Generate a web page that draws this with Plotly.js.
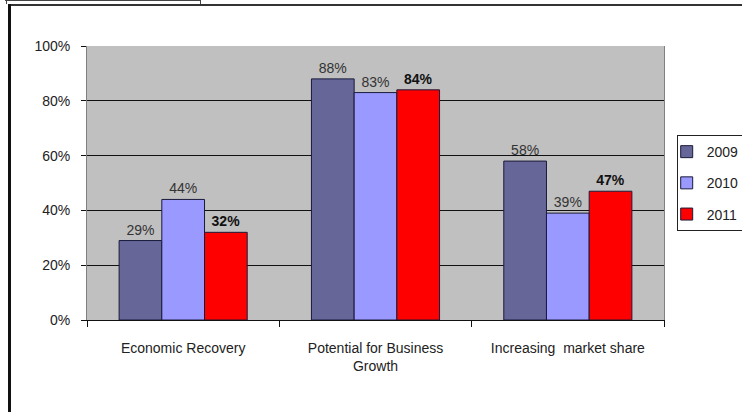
<!DOCTYPE html>
<html>
<head>
<meta charset="utf-8">
<script src="https://cdn.plot.ly/plotly-3.0.1.min.js"></script>
<style>
html,body{margin:0;padding:0;background:#fff;}
#wrap{position:relative;width:742px;height:412px;overflow:hidden;}
#chart{position:absolute;left:0;top:0;width:742px;height:412px;}
.fr{position:absolute;background:#111;}
</style>
</head>
<body>
<div id="wrap">
<div id="chart"></div>
<div class="fr" style="left:8px;top:4px;width:734px;height:2px;background:#333;"></div>
<div class="fr" style="left:8px;top:4px;width:3px;height:408px;"></div>
<div class="fr" style="left:5px;top:0px;width:195px;height:1px;background:#444;"></div>
<div class="fr" style="left:6px;top:0px;width:1px;height:4px;background:#444;"></div>
<div class="fr" style="left:200px;top:0px;width:1px;height:4px;background:#444;"></div>
</div>
<script>
var categories = ["Economic Recovery", "Potential for Business<br>Growth", "Increasing  market share"];
var seriesNames = ["2009", "2010", "2011"];
var values2009 = [0.29, 0.88, 0.58];
var values2010 = [0.44, 0.83, 0.39];
var values2011 = [0.32, 0.84, 0.47];
var yTickVals = [0, 0.2, 0.4, 0.6, 0.8, 1.0];
var yTickText = ["0%", "20%", "40%", "60%", "80%", "100%"];

var FONT = "Liberation Sans, Arial, sans-serif";
function mk(name, vals, color, bold) {
  return {
    type: "bar", name: name, x: categories, y: vals, legendgroup: name,
    marker: {color: color, line: {color: "#1a1a3a", width: 1}},
    text: vals.map(function(v){ return bold ? "<b>" + Math.round(v*100) + "%</b>" : Math.round(v*100) + "%"; }),
    textposition: "outside", cliponaxis: false,
    textfont: {family: FONT, size: 14, color: bold ? "#111" : "#333"},
    hoverinfo: "skip"
  };
}
var data = [
  mk(seriesNames[0], values2009, "#666699", false),
  mk(seriesNames[1], values2010, "#9999ff", false),
  mk(seriesNames[2], values2011, "#ff0000", true)
];
var layout = {
  width: 742, height: 412,
  margin: {l: 87, r: 78, t: 46, b: 92, autoexpand: false},
  paper_bgcolor: "rgba(0,0,0,0)",
  plot_bgcolor: "#c0c0c0",
  barmode: "group", bargap: 0.334, bargroupgap: 0,
  font: {family: FONT, size: 14, color: "#222"},
  showlegend: true,
  legend: {x: 1.022, y: 0.675, xanchor: "left", yanchor: "top",
    bgcolor: "#fff", bordercolor: "#222", borderwidth: 1,
    font: {family: FONT, size: 14, color: "#222"},
    traceorder: "grouped", tracegroupgap: 10, itemwidth: 30, indentation: -11},
  xaxis: {
    showgrid: false, tickson: "boundaries", ticks: "outside", ticklen: 6, tickcolor: "#111",
    showline: true, linecolor: "#111", linewidth: 1, mirror: false,
    ticklabelstandoff: 15, tickfont: {family: FONT, size: 14, color: "#222"}
  },
  yaxis: {
    range: [0, 1], tickvals: yTickVals, ticktext: yTickText,
    showgrid: true, gridcolor: "#111", gridwidth: 1, zeroline: false,
    ticks: "outside", ticklen: 5, tickcolor: "#111",
    showline: true, linecolor: "#808080", linewidth: 1, mirror: true,
    ticklabelstandoff: 8, tickfont: {family: FONT, size: 14, color: "#222"}
  }
};
Plotly.newPlot("chart", data, layout, {staticPlot: true});
</script>
</body>
</html>
